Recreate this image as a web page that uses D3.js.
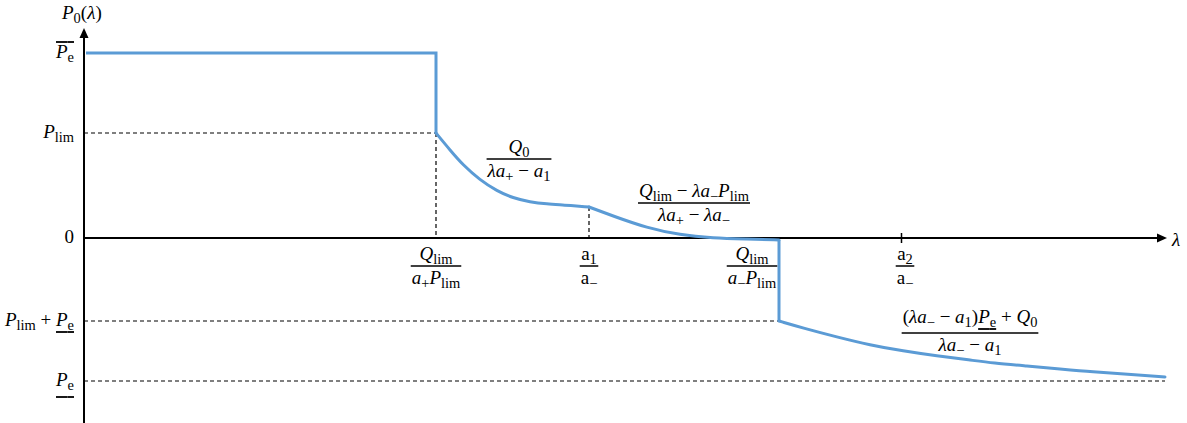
<!DOCTYPE html>
<html>
<head>
    <meta charset="utf-8">
    <title>P0(lambda) piecewise sketch</title>
    <script src="https://d3js.org/d3.v7.min.js"></script>
    <style>
        body { margin: 0; background: #fff; }
    </style>
</head>
<body>
    <svg width="1187" height="423"></svg>
    <script>
        // Levels on the P axis (arbitrary units)
        const yTickValues = [1.85, 1.05, 0, -0.83, -1.43];
        // Break points on the lambda axis
        const xTickValues = [3.52, 5.05, 6.95, 8.17];

        // Label markup: [text, kind, deco] kind: i italic, n normal, s subscript
        // deco: o overline, u underline, U low underline
        const yTickLabels = [
            [["P", "i", "o"], ["e", "s", "o"]],
            [["P", "i"], ["lim", "s"]],
            [["0", "n"]],
            [["P", "i"], ["lim", "s"], [" + ", "n"], ["P", "i", "u"], ["e", "s", "u"]],
            [["P", "i", "U"], ["e", "s", "U"]]
        ];
        const xTickLabels = [
            {num: [["Q", "i"], ["lim", "s"]], den: [["a", "i"], ["+", "s"], ["P", "i"], ["lim", "s"]]},
            {num: [["a", "n"], ["1", "s"]], den: [["a", "n"], ["−", "s"]]},
            {num: [["Q", "i"], ["lim", "s"]], den: [["a", "i"], ["−", "s"], ["P", "i"], ["lim", "s"]]},
            {num: [["a", "n"], ["2", "s"]], den: [["a", "n"], ["−", "s"]]}
        ];

        // The blue curve, piece by piece [lambda, P]
        const stepA = [[0.02, 1.85], [3.52, 1.85], [3.52, 1.05]];
        const curveA = [[3.52, 1.05], [3.66, 0.88], [3.79, 0.73], [3.96, 0.58], [4.13, 0.47],
                        [4.29, 0.40], [4.46, 0.36], [4.63, 0.34], [4.79, 0.33], [5.05, 0.31]];
        const curveB = [[5.05, 0.31], [5.29, 0.22], [5.63, 0.10], [5.96, 0.03], [6.29, 0.00],
                        [6.63, -0.01], [6.95, -0.02]];
        const stepB = [[6.95, -0.02], [6.95, -0.83]];
        const curveC = [[6.95, -0.83], [7.19, -0.90], [7.53, -0.99], [7.86, -1.07], [8.19, -1.13],
                        [8.53, -1.18], [8.86, -1.22], [9.09, -1.25], [9.43, -1.28], [9.76, -1.31],
                        [10.09, -1.34], [10.43, -1.36], [10.81, -1.39]];

        // Formula annotations next to each curve piece
        const formulas = [
            {at: [4.35, 0.79], num: [["Q", "i"], ["0", "s"]],
             den: [["λ", "i"], ["a", "i"], ["+", "s"], [" − ", "n"], ["a", "i"], ["1", "s"]]},
            {at: [6.10, 0.35], num: [["Q", "i"], ["lim", "s"], [" − ", "n"], ["λ", "i"], ["a", "i"], ["−", "s"], ["P", "i"], ["lim", "s"]],
             den: [["λ", "i"], ["a", "i"], ["+", "s"], [" − ", "n"], ["λ", "i"], ["a", "i"], ["−", "s"]]},
            {at: [8.86, -0.95], num: [["(", "n"], ["λ", "i"], ["a", "i"], ["−", "s"], [" − ", "n"], ["a", "i"], ["1", "s"], [")", "n"],
                                      ["P", "i", "u"], ["e", "s", "u"], [" + ", "n"], ["Q", "i"], ["0", "s"]],
             den: [["λ", "i"], ["a", "i"], ["−", "s"], [" − ", "n"], ["a", "i"], ["1", "s"]]}
        ];

        const svg = d3.select("svg");
        const fontSize = 19;
        const fontFamily = "'Liberation Serif', 'Times New Roman', 'DejaVu Serif', serif";

        const x = d3.scaleLinear().domain([0, 10.83]).range([84, 1167]);
        const y = d3.scaleLinear().domain([-1.85, 2.08]).range([423, 30]);

        // write a small formula, returns its width
        function mathText(g, px, py, segs, anchor) {
            const t = g.append("text")
                .attr("x", px).attr("y", py)
                .attr("font-family", fontFamily)
                .attr("font-size", fontSize)
                .attr("fill", "#000")
                .attr("text-anchor", anchor || "start");
            let shifted = false;
            const spans = [];
            let idx = 0;
            segs.forEach(s => {
                const sp = t.append("tspan").text(s[0]);
                const isSub = s[1] === "s";
                if (isSub && !shifted) { sp.attr("dy", 4); shifted = true; }
                if (!isSub && shifted) { sp.attr("dy", -4); shifted = false; }
                sp.attr("font-size", isSub ? fontSize * 0.76 : fontSize)
                  .attr("font-style", s[1] === "i" ? "italic" : "normal");
                spans.push({from: idx, to: idx + s[0].length, deco: s[2]});
                idx += s[0].length;
            });
            const node = t.node();
            const decoY = {o: -16, u: 6, U: 11};
            spans.forEach(s => {
                if (!s.deco) return;
                const x0 = node.getStartPositionOfChar(s.from).x;
                const x1 = node.getEndPositionOfChar(s.to - 1).x;
                const yy = py + decoY[s.deco];
                g.append("line").attr("x1", x0).attr("x2", x1)
                    .attr("y1", yy).attr("y2", yy)
                    .attr("stroke", "#000").attr("stroke-width", 1.8);
            });
            return node.getComputedTextLength();
        }

        function fraction(g, cx, barY, num, den) {
            const lifted = num.some(s => s[2] === "u");
            const w1 = mathText(g, cx, barY - (lifted ? 10 : 6), num, "middle");
            const w2 = mathText(g, cx, barY + 18, den, "middle");
            const w = Math.max(w1, w2) + 2;
            g.append("line")
                .attr("x1", cx - w / 2).attr("x2", cx + w / 2)
                .attr("y1", barY).attr("y2", barY)
                .attr("stroke", "#000").attr("stroke-width", 1.5);
        }

        // Dashed guide lines
        const guides = svg.append("g")
            .attr("stroke", "#000").attr("stroke-width", 1.2)
            .attr("stroke-dasharray", "4,3").attr("fill", "none");
        const guideLines = [
            [[0, yTickValues[1]], [xTickValues[0], yTickValues[1]]],
            [[xTickValues[0], yTickValues[1]], [xTickValues[0], 0]],
            [[xTickValues[1], curveA[curveA.length - 1][1]], [xTickValues[1], 0]],
            [[0, yTickValues[3]], [xTickValues[2], yTickValues[3]]],
            [[0, yTickValues[4]], [curveC[curveC.length - 1][0], yTickValues[4]]]
        ];
        guideLines.forEach(l => {
            guides.append("line")
                .attr("x1", x(l[0][0])).attr("y1", y(l[0][1]))
                .attr("x2", x(l[1][0])).attr("y2", y(l[1][1]));
        });

        // Axes with arrow heads
        const axes = svg.append("g");
        axes.append("g")
            .attr("transform", `translate(0,${y(0)})`)
            .call(d3.axisBottom(x).tickValues([xTickValues[3]]).tickFormat("").tickSizeOuter(0).tickSizeInner(5))
            .call(g => g.select(".domain").attr("stroke-width", 2).attr("d", `M${x(0)},0H${x(10.83) - 6}`))
            .call(g => g.selectAll(".tick line").attr("y1", -5).attr("stroke-width", 1.5));
        axes.append("g")
            .attr("transform", `translate(${x(0)},0)`)
            .call(d3.axisLeft(y).tickValues([]).tickSizeOuter(0))
            .call(g => g.select(".domain").attr("stroke-width", 2).attr("d", `M0,${y(-1.85)}V${y(2.08) + 6}`));
        axes.append("path")
            .attr("d", `M${x(0)},${y(2.08) - 2}l-4.5,10h9z`).attr("fill", "#000");
        axes.append("path")
            .attr("d", `M${x(10.83)},${y(0)}l-10,-4.5v9z`).attr("fill", "#000");

        // Blue curve
        const blue = "#5B9BD5";
        const straight = d3.line().x(d => x(d[0])).y(d => y(d[1]));
        const smooth = d3.line().x(d => x(d[0])).y(d => y(d[1])).curve(d3.curveBasis);
        [stepA, stepB].forEach(p => svg.append("path").attr("d", straight(p))
            .attr("fill", "none").attr("stroke", blue).attr("stroke-width", 3));
        [curveA, curveB, curveC].forEach(p => svg.append("path").attr("d", smooth(p))
            .attr("fill", "none").attr("stroke", blue).attr("stroke-width", 3)
            .attr("stroke-linecap", "round"));

        // Labels
        const labels = svg.append("g");
        mathText(labels, 62, 19, [["P", "i"], ["0", "s"], ["(", "n"], ["λ", "i"], [")", "n"]]);
        mathText(labels, 1172, 246, [["λ", "i"]]);
        yTickValues.forEach((v, i) => {
            mathText(labels, x(0) - 10, y(v) + 5, yTickLabels[i], "end");
        });
        const xLabelShift = [0, 0, -27, 4];
        xTickValues.forEach((v, i) => {
            fraction(labels, x(v) + xLabelShift[i], 266, xTickLabels[i].num, xTickLabels[i].den);
        });
        formulas.forEach(f => fraction(labels, x(f.at[0]), y(f.at[1]), f.num, f.den));
    </script>
</body>
</html>
